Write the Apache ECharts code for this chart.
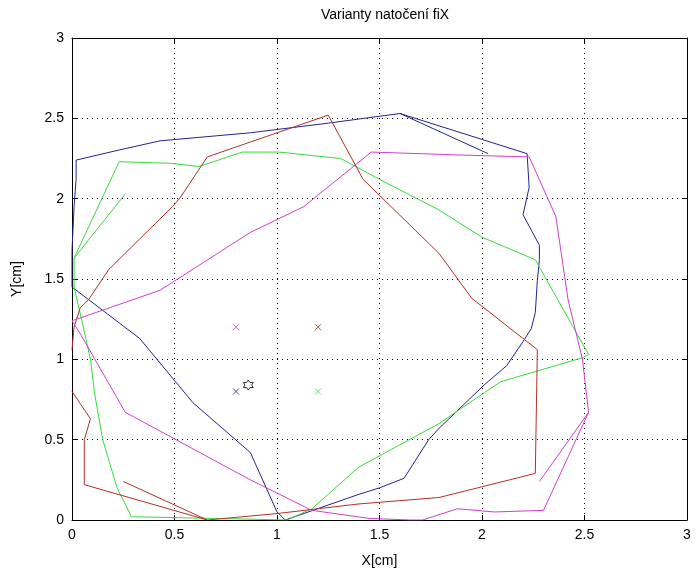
<!DOCTYPE html>
<html>
<head>
<meta charset="utf-8">
<script src="https://cdn.jsdelivr.net/npm/echarts@6/dist/echarts.min.js"></script>
<style>
  html, body { margin: 0; padding: 0; background: #fff; }
  #main { width: 696px; height: 576px; }
</style>
</head>
<body>
<div id="main"></div>
<script>
// tick labels
var ticks = [0, 0.5, 1, 1.5, 2, 2.5, 3];

// traces, [x, y] in cm
var blueLine = [[2.03, 2.28], [1.6, 2.53], [1.25, 2.47], [0.87, 2.41], [0.43, 2.36], [0.22, 2.30],
  [0.02, 2.24], [0.02, 2.12], [0.01, 1.95], [0, 1.68], [0, 1.45], [0.33, 1.13], [0.59, 0.73],
  [0.87, 0.42], [1.0, 0.05], [1.04, 0], [1.4, 0.16], [1.5, 0.2], [1.62, 0.26], [1.74, 0.5],
  [1.79, 0.57], [2.01, 0.84], [2.12, 0.96], [2.20, 1.11], [2.24, 1.19], [2.26, 1.29],
  [2.27, 1.49], [2.28, 1.62], [2.28, 1.71], [2.20, 1.90], [2.23, 2.07], [2.22, 2.28], [1.6, 2.53]];

var greenLine = [[0.26, 2.03], [0.01, 1.63], [0.23, 2.23], [0.48, 2.22], [0.62, 2.2], [0.83, 2.29],
  [1.01, 2.29], [1.31, 2.25], [1.37, 2.21], [1.5, 2.12], [1.79, 1.93], [2.0, 1.76], [2.26, 1.62],
  [2.52, 1.03], [2.49, 1.01], [2.09, 0.86], [1.79, 0.6], [1.4, 0.33], [1.17, 0.07], [1.05, 0.0],
  [0.7, 0.01], [0.29, 0.02], [0.22, 0.2], [0.18, 0.37], [0.15, 0.5], [0.11, 0.79], [0.09, 1.0],
  [0.05, 1.23], [0.01, 1.45], [0.01, 1.63]];

var redLine = [[0.25, 0.24], [0.66, 0], [1.0, 0.04], [1.4, 0.1], [1.79, 0.14], [2.01, 0.21],
  [2.26, 0.29], [2.27, 1.06], [1.95, 1.38], [1.79, 1.66], [1.42, 2.12], [1.25, 2.52], [0.66, 2.26],
  [0.53, 2.01], [0.49, 1.95], [0.18, 1.56], [0.08, 1.37], [0.04, 1.32], [0.01, 1.2], [0, 1.06]];

var redTail = [[0, 0.8], [0.09, 0.63], [0.06, 0.5], [0.06, 0.22], [0.66, 0]];

var magentaLine = [[2.28, 0.24], [2.52, 0.67], [2.49, 1.0], [2.42, 1.37], [2.36, 1.89], [2.23, 2.26],
  [1.94, 2.27], [1.46, 2.29], [1.13, 1.95], [0.87, 1.79], [0.43, 1.43], [0, 1.24], [0.04, 1.16],
  [0.26, 0.67], [0.87, 0.25], [1.17, 0.06], [1.45, 0.01], [1.65, 0], [1.71, 0], [1.88, 0.07],
  [2.06, 0.05], [2.30, 0.06], [2.52, 0.67]];

// cross markers
var magentaCross = [[0.8, 1.2]];
var redCross = [[1.2, 1.2]];
var blueCross = [[0.8, 0.8]];
var greenCross = [[1.2, 0.8]];
var starPoint = [[0.86, 0.84]];

var cBlue = '#24248e', cGreen = '#3ada3a', cRed = '#b0302a', cMag = '#cc40cc';
var font = 'Liberation Sans, Arial, sans-serif';
var crossPath = 'path://M0,0L10,10M10,0L0,10';
var starPath = 'path://M5,0L6.5,2.5L9.5,2.5L8,5L9.5,7.5L6.5,7.5L5,10L3.5,7.5L0.5,7.5L2,5L0.5,2.5L3.5,2.5Z';

function line(data, color) {
  return { type: 'line', data: data, symbol: 'none', lineStyle: { color: color, width: 1 }, z: 3 };
}
function cross(data, color) {
  return {
    type: 'scatter', data: data, symbol: crossPath, symbolSize: 6,
    itemStyle: { color: 'none', borderColor: color, borderWidth: 1 }, z: 4
  };
}

var chart = echarts.init(document.getElementById('main'));

var axisBase = {
  type: 'value', min: 0, max: 3, interval: 0.5,
  axisLine: { show: true, onZero: false, lineStyle: { color: '#000', width: 1 } },
  axisTick: { show: true, inside: true, length: 5, lineStyle: { color: '#000' } },
  axisLabel: { color: '#000', fontSize: 14, fontFamily: font,
    formatter: function (v) { return String(v); } },
  splitLine: { show: false }
};

var option = {
  animation: false,
  backgroundColor: '#fff',
  title: {
    text: 'Varianty natočení fiX',
    left: 380, top: 3, textAlign: 'center',
    textStyle: { fontSize: 14, fontWeight: 'normal', color: '#000', fontFamily: font }
  },
  grid: { left: 72, right: 9, top: 38, bottom: 56 },
  xAxis: [
    Object.assign({}, axisBase, {
      position: 'bottom',
      name: 'X[cm]', nameLocation: 'middle', nameGap: 34,
      nameTextStyle: { color: '#000', fontSize: 14, fontFamily: font },
      splitLine: { show: true, lineStyle: { color: '#000', type: [1, 4], width: 1 } }
    }),
    Object.assign({}, axisBase, { position: 'top', axisLabel: { show: false } })
  ],
  yAxis: [
    Object.assign({}, axisBase, {
      position: 'left',
      name: 'Y[cm]', nameLocation: 'middle', nameGap: 48,
      nameTextStyle: { color: '#000', fontSize: 14, fontFamily: font },
      splitLine: { show: true, lineStyle: { color: '#000', type: [1, 4], width: 1 } }
    }),
    Object.assign({}, axisBase, { position: 'right', axisLabel: { show: false } })
  ],
  series: [
    line(blueLine, cBlue),
    line(greenLine, cGreen),
    line(redLine, cRed),
    line(redTail, cRed),
    line(magentaLine, cMag),
    cross(magentaCross, cMag),
    cross(redCross, cRed),
    cross(blueCross, cBlue),
    cross(greenCross, cGreen),
    {
      type: 'scatter', data: starPoint, symbol: starPath, symbolSize: 10,
      itemStyle: { color: '#fff', borderColor: '#000', borderWidth: 1 }, z: 5
    }
  ]
};

chart.setOption(option);
</script>
</body>
</html>
